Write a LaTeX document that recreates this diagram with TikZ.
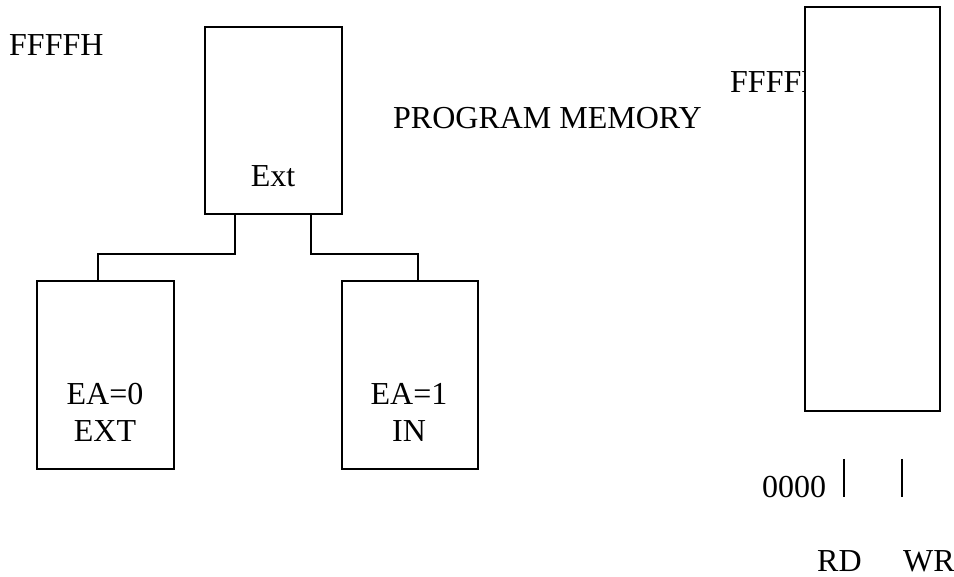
\documentclass[tikz,border=0pt]{standalone}
\usepackage{fontspec}
\setmainfont{Liberation Serif}
\begin{document}
\begin{tikzpicture}[x=1pt,y=-1pt,
  box/.style={draw,line width=2pt,inner sep=0pt,outer sep=0pt,fill=white},
  lbl/.style={inner sep=0pt,font=\fontsize{32}{38}\selectfont},
  wire/.style={line width=2pt}]
\useasboundingbox (0,0) rectangle (954,577);
% texts
\node[lbl,anchor=base west] (f1) at (9,56) {FFFFH};
\node[lbl,anchor=base west] (f2) at (730,93) {FFFFH};
\node[lbl,anchor=base west] (pm) at (393,129) {PROGRAM MEMORY};
% boxes
\node[box,minimum width=137pt,minimum height=187pt] (ext) at (273.5,120.5) {};
\node[box,minimum width=137pt,minimum height=188pt] (lb) at (105.5,375) {};
\node[box,minimum width=136pt,minimum height=188pt] (rb) at (410,375) {};
\node[box,minimum width=135pt,minimum height=404pt] (mem) at (872.5,209) {};
% labels inside boxes
\node[lbl,anchor=base] (extt) at (273,187) {Ext};
\node[lbl,anchor=base] (ea0) at (105,405) {EA=0};
\node[lbl,anchor=base] (ext2) at (105,442) {EXT};
\node[lbl,anchor=base] (ea1) at (409,405) {EA=1};
\node[lbl,anchor=base] (in) at (409,442) {IN};
% connectors
\coordinate (jl) at (235,254);
\coordinate (jr) at (311,254);
\coordinate (el) at (98,254);
\coordinate (er) at (418,254);
\draw[wire] (jl |- ext.south) -- (jl) -- (el) -- (el |- lb.north);
\draw[wire] (jr |- ext.south) -- (jr) -- (er) -- (er |- rb.north);
% bottom right
\node[lbl,anchor=base west] (zero) at (762,497) {0000};
\coordinate (b1t) at (844,459); \coordinate (b1b) at (844,497);
\coordinate (b2t) at (902,459); \coordinate (b2b) at (902,497);
\draw[wire] (b1t) -- (b1b);
\draw[wire] (b2t) -- (b2b);
\node[lbl,anchor=base west] (rd) at (817,571) {RD};
\node[lbl,anchor=base west] (wr) at (903,571) {WR};
\end{tikzpicture}
\end{document}
